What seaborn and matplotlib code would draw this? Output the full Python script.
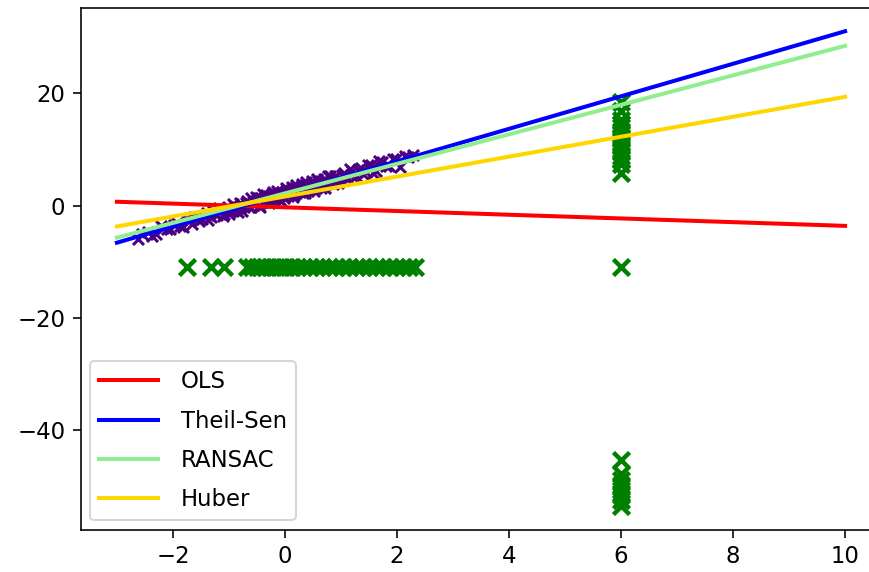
import numpy as np
import pandas as pd
import matplotlib
matplotlib.use("Agg")
import matplotlib.pyplot as plt
import seaborn as sns

# inlier points (purple)
inlier_x = [-2.62, -2.45, -2.31, -2.18, -2.05, -1.93, -1.82, -1.71, -1.62, -1.53,
            -1.45, -1.37, -1.29, -1.22, -1.15, -1.08, -1.02, -0.96, -0.90, -0.84,
            -0.79, -0.73, -0.68, -0.62, -0.57, -0.52, -0.47, -0.42, -0.37, -0.33,
            -0.28, -0.23, -0.19, -0.14, -0.10, -0.05, -0.01, 0.03, 0.08, 0.12,
            0.17, 0.21, 0.26, 0.30, 0.35, 0.40, 0.44, 0.49, 0.54, 0.59,
            0.64, 0.69, 0.74, 0.80, 0.86, 0.92, 0.98, 1.05, 1.12, 1.19,
            1.27, 1.35, 1.44, 1.53, 1.63, 1.74, 1.86, 1.99, 2.14, 2.28,
            -2.55, -2.38, -2.22, -2.10, -1.98, -1.87, -1.76, -1.66, -1.57, -1.48,
            -1.40, -1.32, -1.25, -1.18, -1.11, -1.05, -0.99, -0.93, -0.87, -0.81,
            -0.76, -0.70, -0.65, -0.60, -0.55, -0.49, -0.44, -0.39, -0.35, -0.30,
            -0.25, -0.21, -0.16, -0.12, -0.07, -0.03, 0.01, 0.06, 0.10, 0.15,
            0.19, 0.24, 0.28, 0.33, 0.37, 0.42, 0.47, 0.52, 0.57, 0.62,
            0.67, 0.72, 0.77, 0.83, 0.89, 0.95, 1.02, 1.09, 1.16, 1.23,
            1.31, 1.40, 1.49, 1.58, 1.68, 1.80, 1.93, 2.06, 2.20]
inlier_y = [-5.9, -4.7, -5.1, -4.0, -4.1, -3.1, -3.8, -2.8, -2.1, -2.7,
            -1.9, -2.6, -1.0, -1.6, -0.9, -1.5, -0.2, -1.0, -0.3, -1.1,
            0.3, -0.2, 0.9, -0.3, 0.6, 1.5, 0.0, 1.3, 0.7, 1.9,
            0.4, 1.7, 1.2, 2.6, 1.2, 2.5, 1.3, 2.9, 2.0, 3.4,
            1.9, 3.1, 2.4, 3.8, 2.2, 3.6, 3.0, 4.4, 3.1, 4.4,
            3.2, 4.8, 3.9, 5.3, 3.9, 5.3, 4.5, 5.9, 4.8, 6.2,
            5.3, 6.7, 6.0, 7.3, 6.2, 7.8, 7.1, 8.4, 8.8, 9.1,
            -5.1, -5.4, -3.7, -4.2, -3.5, -3.6, -2.4, -3.2, -2.2, -2.4,
            -1.3, -2.1, -1.4, -0.5, -1.8, -0.6, -1.4, 0.3, -0.8, 0.4,
            -1.0, 0.4, -0.3, 1.4, 0.2, 1.3, -0.2, 2.0, 1.0, 1.8,
            0.7, 2.5, 1.4, 2.3, 0.9, 2.2, 3.1, 1.7, 2.8, 1.5,
            3.7, 2.6, 3.4, 2.3, 4.2, 2.7, 3.9, 2.6, 4.8, 3.7,
            4.3, 3.2, 5.3, 4.2, 5.3, 4.0, 5.4, 5.0, 6.5, 4.9,
            6.3, 5.6, 7.3, 5.9, 8.0, 7.0, 8.3, 6.9, 8.7]

# outlier points (green)
outlier_x = [-1.75, -1.32, -1.08,
             -0.68, -0.58, -0.50, -0.42, -0.33, -0.25, -0.16, -0.07, 0.02, 0.12,
             0.22, 0.33, 0.44, 0.55, 0.66, 0.78, 0.90, 1.02, 1.14, 1.26, 1.38,
             1.50, 1.62, 1.74, 1.86, 1.98, 2.10, 2.22, 2.32,
             6, 6, 6, 6, 6, 6, 6, 6, 6, 6, 6, 6, 6, 6, 6, 6,
             6,
             6, 6, 6, 6, 6, 6, 6, 6]
outlier_y = [-11] * 32 + \
            [18.4, 16.8, 15.2, 14.6, 14.0, 13.3, 12.7, 12.0, 11.4, 10.8, 10.1,
             9.5, 8.9, 8.3, 7.4, 5.9] + \
            [-11] + \
            [-45.3, -47.8, -48.9, -49.8, -50.7, -51.6, -52.4, -53.5]

# fitted lines
line_x = [-3, 10]
models = ["OLS", "Theil-Sen", "RANSAC", "Huber"]
colors = ["red", "blue", "lightgreen", "gold"]
ols_y = [0.7, -3.6]
theilsen_y = [-6.6, 31.1]
ransac_y = [-5.7, 28.5]
huber_y = [-3.7, 19.4]
line_ys = [ols_y, theilsen_y, ransac_y, huber_y]

plt.rcParams["font.size"] = 11.3
plt.rcParams["xtick.major.size"] = 4
plt.rcParams["ytick.major.size"] = 4

fig = plt.figure(figsize=(869 / 145, 572 / 145), dpi=145)
ax = fig.add_axes([80.5 / 869, 1 - 529.5 / 572, 801 / 869, 522 / 572])

sns.scatterplot(x=inlier_x, y=inlier_y, marker="x", color="indigo",
                s=30, linewidth=1.5, ax=ax, legend=False)
sns.scatterplot(x=outlier_x, y=outlier_y, marker="x", color="green",
                s=64, linewidth=2.2, ax=ax, legend=False)

for name, col, ys in zip(models, colors, line_ys):
    sns.lineplot(x=line_x, y=ys, color=col, linewidth=2, label=name, ax=ax)

ax.legend(loc="lower left", handlelength=2.6, labelspacing=0.72,
          borderaxespad=0.4, handletextpad=1.0)
ax.set_xlim(-3.65, 10.65)
ax.set_ylim(-57.73, 35.33)

fig.savefig("out.png", dpi=145)
